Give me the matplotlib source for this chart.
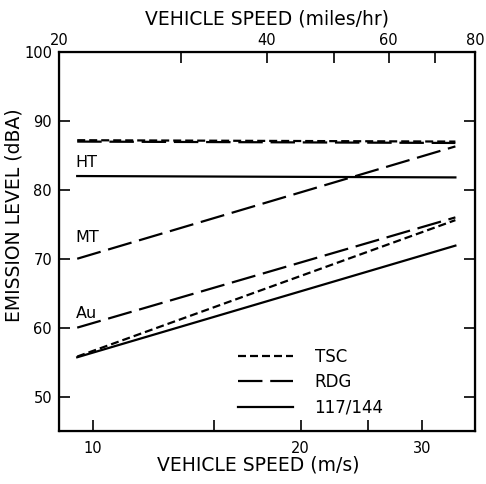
import numpy as np
import matplotlib
matplotlib.use('Agg')
import matplotlib.pyplot as plt
from matplotlib.ticker import FixedLocator, FixedFormatter, NullLocator
from matplotlib.lines import Line2D

MPH_PER_MS = 2.23694

# speed range of the curves (m/s)
speed_ms = [9.5, 33.5]

# emission levels (dBA) at the two ends
tsc_ht = [87.2, 87.0]
rdg_ht = [87.0, 86.8]
rdg_mt = [70.0, 86.3]
rdg_au = [60.0, 76.0]
tsc_au = [55.8, 75.6]
std_ht = [82.0, 81.8]
std_au = [55.7, 71.9]

class_labels = ['HT', 'MT', 'Au']
class_label_y = [83.9, 73.1, 62.0]

ms_ticks = [10, 15, 20, 25, 30]
ms_ticklabels = ['10', '', '20', '', '30']
mph_ticks = [20, 30, 40, 50, 60, 70, 80]
mph_ticklabels = ['20', '', '40', '', '60', '', '80']
db_ticks = [50, 60, 70, 80, 90, 100]

plt.rcParams['font.family'] = 'DejaVu Sans'

fig = plt.figure(figsize=(4.86, 4.84), dpi=100)
ax = fig.add_axes([59/486, 1-431/484, 416/486, 379/484])

lw = 1.6
tsc_style = (0, (3.6, 1.8))
rdg_style = (0, (11, 3.5))

ax.plot(speed_ms, tsc_ht, color='k', lw=lw, linestyle=tsc_style)
ax.plot(speed_ms, rdg_ht, color='k', lw=lw, linestyle=rdg_style)
ax.plot(speed_ms, rdg_mt, color='k', lw=lw, linestyle=rdg_style)
ax.plot(speed_ms, rdg_au, color='k', lw=lw, linestyle=rdg_style)
ax.plot(speed_ms, tsc_au, color='k', lw=lw, linestyle=tsc_style)
ax.plot(speed_ms, std_ht, color='k', lw=lw)
ax.plot(speed_ms, std_au, color='k', lw=lw)

for lab, yy in zip(class_labels, class_label_y):
    ax.text(9.45, yy, lab, fontsize=11.5, ha='left', va='center')

ax.set_xscale('log')
ax.set_xlim(20/MPH_PER_MS, 80/MPH_PER_MS)
ax.set_ylim(45, 100)
ax.xaxis.set_major_locator(FixedLocator(ms_ticks))
ax.xaxis.set_major_formatter(FixedFormatter(ms_ticklabels))
ax.xaxis.set_minor_locator(NullLocator())
ax.set_yticks(db_ticks)
ax.tick_params(axis='x', direction='in', length=8, width=1.2, labelsize=10.5, pad=7)
ax.tick_params(axis='y', direction='in', length=8, width=1.2, labelsize=10.5, pad=5,
               right=True)
for s in ax.spines.values():
    s.set_linewidth(1.6)

ax2 = ax.twiny()
ax2.set_xscale('log')
ax2.set_xlim(20, 80)
ax2.xaxis.set_major_locator(FixedLocator(mph_ticks))
ax2.xaxis.set_major_formatter(FixedFormatter(mph_ticklabels))
ax2.xaxis.set_minor_locator(NullLocator())
ax2.tick_params(axis='x', direction='in', length=8, width=1.2, labelsize=10.5, pad=3)

ax.set_xlabel('VEHICLE SPEED (m/s)', fontsize=13.5)
ax.xaxis.set_label_coords(0.48, -0.065)
ax2.set_xlabel('VEHICLE SPEED (miles/hr)', fontsize=13.5, labelpad=6)
ax.set_ylabel('EMISSION LEVEL (dBA)', fontsize=13.5)
ax.yaxis.set_label_coords(-0.085, 0.57)

handles = [Line2D([], [], color='k', lw=lw, linestyle=tsc_style),
           Line2D([], [], color='k', lw=lw, linestyle=rdg_style),
           Line2D([], [], color='k', lw=lw)]
ax.legend(handles, ['TSC', 'RDG', '117/144'], loc='upper left',
          bbox_to_anchor=(0.43, 0.22), frameon=False, fontsize=12,
          handlelength=3.3, handletextpad=1.3, labelspacing=0.45,
          borderpad=0, borderaxespad=0)

fig.savefig('out.png', dpi=100)
